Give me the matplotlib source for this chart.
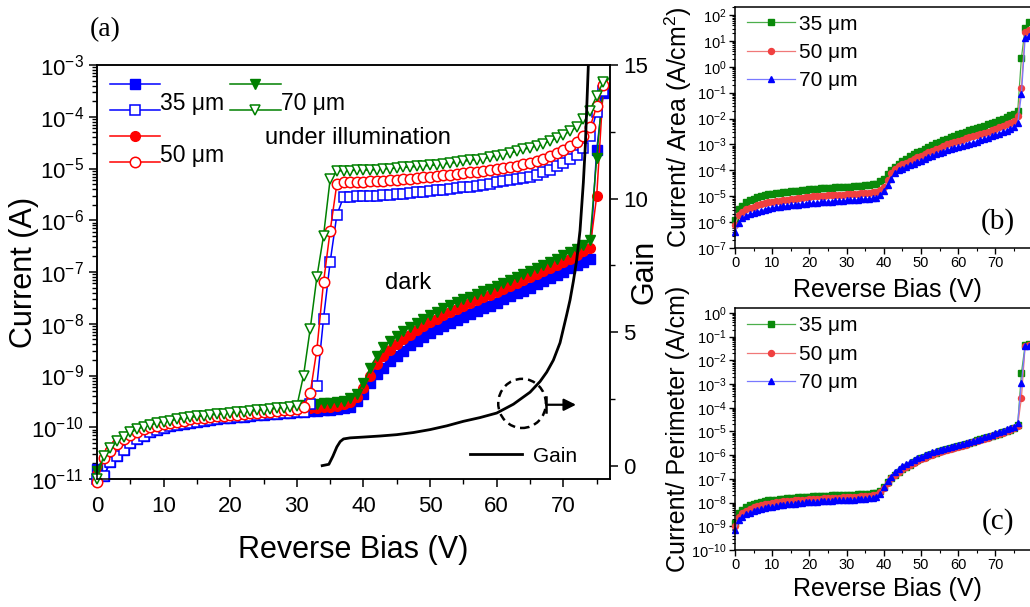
import numpy as np
import matplotlib
matplotlib.use("Agg")
import matplotlib.pyplot as plt
from matplotlib.lines import Line2D
from matplotlib.patches import Ellipse
from matplotlib.legend_handler import HandlerBase
from matplotlib.ticker import LogLocator, MultipleLocator, NullFormatter, FixedLocator

plt.rcParams["font.family"] = ["Liberation Sans", "DejaVu Sans"]
plt.rcParams["mathtext.fontset"] = "custom"
plt.rcParams["mathtext.rm"] = "Liberation Sans"
plt.rcParams["mathtext.it"] = "Liberation Sans:italic"
plt.rcParams["axes.linewidth"] = 1.1

# ---------------- panel (a): current vs reverse bias, log10(I / A) ----------------
volts_a = np.arange(0, 77)

# 1-29 V: dark and illuminated curves lie on top of each other
low_35 = [-10.95, -10.67, -10.56, -10.44, -10.31, -10.22, -10.16, -10.10, -10.05,
          -10.01, -9.98, -9.95, -9.93, -9.91, -9.89, -9.87, -9.86, -9.84, -9.83,
          -9.82, -9.81, -9.80, -9.78, -9.77, -9.76, -9.75, -9.74, -9.73, -9.72]
low_50 = [-10.60, -10.45, -10.32, -10.23, -10.15, -10.09, -10.04, -10.00, -9.97,
          -9.94, -9.92, -9.89, -9.87, -9.85, -9.83, -9.82, -9.80, -9.79, -9.78,
          -9.77, -9.76, -9.75, -9.73, -9.72, -9.71, -9.70, -9.68, -9.67, -9.66]
low_70 = [-10.55, -10.40, -10.27, -10.18, -10.10, -10.04, -9.99, -9.95, -9.92,
          -9.89, -9.87, -9.85, -9.83, -9.81, -9.79, -9.78, -9.76, -9.75, -9.74,
          -9.72, -9.71, -9.70, -9.69, -9.67, -9.66, -9.65, -9.63, -9.62, -9.61]

dark_35 = [-10.80] + low_35 + [
    -9.71, -9.70, -9.69, -9.68, -9.67, -9.66, -9.65, -9.63, -9.60, -9.50,
    -9.35, -9.15, -8.98, -8.85, -8.72, -8.62, -8.52, -8.42, -8.33, -8.25,
    -8.18, -8.11, -8.05, -7.99, -7.93, -7.87, -7.81, -7.76, -7.70, -7.65,
    -7.59, -7.53, -7.47, -7.41, -7.36, -7.30, -7.24, -7.18, -7.12, -7.06,
    -7.00, -6.93, -6.86, -6.80, -6.74, -4.64, -3.54]
dark_50 = [-10.90] + low_50 + [
    -9.65, -9.64, -9.63, -9.62, -9.61, -9.60, -9.58, -9.56, -9.52, -9.42,
    -9.25, -9.00, -8.78, -8.62, -8.50, -8.40, -8.30, -8.21, -8.12, -8.04,
    -7.97, -7.90, -7.84, -7.78, -7.72, -7.66, -7.60, -7.55, -7.49, -7.44,
    -7.38, -7.33, -7.27, -7.21, -7.15, -7.10, -7.04, -6.98, -6.92, -6.86,
    -6.80, -6.74, -6.67, -6.60, -6.54, -5.54, -3.42]
dark_70 = [-10.85] + low_70 + [
    -9.59, -9.57, -9.56, -9.55, -9.54, -9.53, -9.51, -9.49, -9.44, -9.35,
    -9.15, -8.85, -8.62, -8.45, -8.33, -8.23, -8.14, -8.06, -7.98, -7.91,
    -7.84, -7.77, -7.70, -7.64, -7.58, -7.53, -7.48, -7.43, -7.37, -7.32,
    -7.27, -7.22, -7.16, -7.10, -7.04, -6.98, -6.92, -6.86, -6.80, -6.74,
    -6.68, -6.62, -6.56, -6.47, -6.38, -4.80, -3.35]

illum_35 = [-11.00] + low_35 + [
    -9.71, -9.70, -9.55, -9.20, -7.90, -6.80, -5.90, -5.55, -5.55, -5.54,
    -5.54, -5.53, -5.53, -5.52, -5.51, -5.50, -5.49, -5.48, -5.46, -5.45,
    -5.44, -5.42, -5.41, -5.39, -5.38, -5.36, -5.35, -5.33, -5.31, -5.29,
    -5.27, -5.25, -5.23, -5.21, -5.18, -5.16, -5.12, -5.07, -5.02, -4.96,
    -4.90, -4.82, -4.74, -4.60, -4.38, -3.90, -3.50]
illum_50 = [-11.05] + low_50 + [
    -9.65, -9.60, -9.34, -8.50, -7.20, -6.20, -5.30, -5.27, -5.27, -5.26,
    -5.26, -5.25, -5.25, -5.24, -5.23, -5.22, -5.21, -5.20, -5.19, -5.17,
    -5.16, -5.15, -5.13, -5.12, -5.10, -5.09, -5.07, -5.06, -5.04, -5.02,
    -5.00, -4.99, -4.97, -4.95, -4.92, -4.90, -4.86, -4.81, -4.76, -4.70,
    -4.64, -4.56, -4.48, -4.37, -4.20, -3.80, -3.38]
illum_70 = [-11.00] + low_70 + [
    -9.59, -9.00, -8.10, -7.10, -6.30, -5.20, -5.05, -5.04, -5.04, -5.03,
    -5.03, -5.03, -5.02, -5.01, -5.00, -4.99, -4.98, -4.97, -4.96, -4.95,
    -4.94, -4.93, -4.91, -4.90, -4.88, -4.86, -4.84, -4.83, -4.81, -4.78,
    -4.76, -4.73, -4.70, -4.67, -4.63, -4.60, -4.56, -4.52, -4.47, -4.41,
    -4.35, -4.28, -4.20, -4.05, -3.88, -3.60, -3.32]

gain_volts = [33.8, 34.8, 35.4, 36.0, 36.5, 37.0, 38.0, 40.0, 42.5, 45.0, 47.5,
              50.0, 52.5, 55.0, 57.5, 60.0, 62.5, 65.0, 66.5, 67.5, 68.5, 69.5,
              70.5, 71.0, 71.5, 72.0, 72.5, 73.0, 73.3, 73.6, 73.9]
gain = [0.0, 0.05, 0.35, 0.70, 0.90, 1.00, 1.04, 1.07, 1.11, 1.16, 1.24,
        1.35, 1.49, 1.66, 1.80, 1.97, 2.30, 2.75, 3.15, 3.50, 3.95, 4.60,
        5.65, 6.20, 6.90, 7.70, 8.80, 10.6, 12.0, 14.0, 16.0]

# ---------------- panels (b) and (c): normalised dark current, log10 ----------------
volts_bc = np.arange(0, 80)

area_35 = [
    -5.92, -5.50, -5.37, -5.24, -5.15, -5.09, -5.04, -5.00, -4.96, -4.93,
    -4.90, -4.88, -4.86, -4.84, -4.82, -4.81, -4.79, -4.78, -4.76, -4.75,
    -4.73, -4.72, -4.71, -4.70, -4.69, -4.68, -4.67, -4.66, -4.65, -4.65,
    -4.64, -4.63, -4.62, -4.61, -4.60, -4.58, -4.56, -4.54, -4.51, -4.43,
    -4.32, -4.13, -4.00, -3.88, -3.76, -3.65, -3.55, -3.46, -3.38, -3.31,
    -3.24, -3.17, -3.10, -3.03, -2.96, -2.90, -2.84, -2.78, -2.72, -2.66,
    -2.61, -2.56, -2.51, -2.46, -2.42, -2.37, -2.32, -2.27, -2.22, -2.17,
    -2.12, -2.06, -2.00, -1.94, -1.88, -1.82, -1.72, 0.34, 1.49, 1.74]
area_50 = [
    -6.11, -5.73, -5.60, -5.50, -5.44, -5.40, -5.35, -5.31, -5.27, -5.24,
    -5.22, -5.19, -5.17, -5.15, -5.13, -5.11, -5.09, -5.07, -5.05, -5.04,
    -5.02, -5.01, -5.00, -4.99, -4.98, -4.97, -4.96, -4.95, -4.94, -4.94,
    -4.93, -4.92, -4.91, -4.90, -4.89, -4.88, -4.87, -4.85, -4.83, -4.76,
    -4.64, -4.38, -4.12, -3.95, -3.85, -3.77, -3.70, -3.64, -3.57, -3.50,
    -3.44, -3.38, -3.31, -3.25, -3.18, -3.12, -3.06, -3.00, -2.95, -2.90,
    -2.85, -2.81, -2.76, -2.72, -2.67, -2.63, -2.59, -2.54, -2.50, -2.45,
    -2.40, -2.34, -2.28, -2.22, -2.16, -2.08, -1.92, -0.81, 1.36, 1.42]
area_70 = [
    -6.37, -6.05, -5.85, -5.76, -5.70, -5.66, -5.61, -5.56, -5.52, -5.48,
    -5.45, -5.43, -5.41, -5.39, -5.37, -5.35, -5.34, -5.32, -5.30, -5.29,
    -5.28, -5.27, -5.25, -5.24, -5.23, -5.22, -5.21, -5.20, -5.18, -5.17,
    -5.16, -5.15, -5.14, -5.13, -5.12, -5.11, -5.09, -5.08, -5.06, -4.96,
    -4.80, -4.57, -4.32, -4.12, -4.00, -3.93, -3.87, -3.81, -3.75, -3.69,
    -3.63, -3.57, -3.50, -3.43, -3.37, -3.32, -3.28, -3.23, -3.19, -3.15,
    -3.11, -3.07, -3.02, -2.98, -2.93, -2.89, -2.84, -2.79, -2.74, -2.69,
    -2.64, -2.59, -2.53, -2.47, -2.41, -2.33, -2.19, -1.07, 1.10, 1.20]

perim_35 = [
    -8.87, -8.45, -8.31, -8.20, -8.12, -8.06, -8.02, -7.98, -7.94, -7.91,
    -7.89, -7.87, -7.85, -7.83, -7.82, -7.80, -7.79, -7.78, -7.77, -7.76,
    -7.75, -7.74, -7.73, -7.72, -7.71, -7.71, -7.70, -7.69, -7.69, -7.68,
    -7.68, -7.67, -7.66, -7.65, -7.64, -7.63, -7.62, -7.60, -7.58, -7.50,
    -7.35, -7.15, -6.98, -6.85, -6.72, -6.60, -6.50, -6.40, -6.30, -6.21,
    -6.13, -6.07, -6.01, -5.95, -5.89, -5.84, -5.79, -5.74, -5.69, -5.66,
    -5.63, -5.58, -5.53, -5.48, -5.43, -5.38, -5.33, -5.28, -5.23, -5.18,
    -5.14, -5.09, -5.04, -4.98, -4.92, -4.85, -4.72, -2.54, -1.35, -1.30]
perim_50 = [
    -9.00, -8.60, -8.45, -8.34, -8.26, -8.20, -8.15, -8.11, -8.07, -8.04,
    -8.02, -7.99, -7.97, -7.95, -7.94, -7.92, -7.91, -7.89, -7.88, -7.87,
    -7.86, -7.85, -7.84, -7.83, -7.82, -7.81, -7.80, -7.80, -7.79, -7.78,
    -7.78, -7.77, -7.76, -7.75, -7.74, -7.73, -7.71, -7.69, -7.66, -7.56,
    -7.38, -7.16, -6.98, -6.83, -6.71, -6.60, -6.50, -6.40, -6.31, -6.23,
    -6.16, -6.10, -6.04, -5.98, -5.92, -5.87, -5.82, -5.77, -5.72, -5.68,
    -5.64, -5.60, -5.55, -5.50, -5.45, -5.41, -5.36, -5.31, -5.26, -5.21,
    -5.16, -5.11, -5.05, -5.00, -4.94, -4.87, -4.75, -3.59, -1.40, -1.33]
perim_70 = [
    -9.15, -8.75, -8.60, -8.50, -8.42, -8.36, -8.31, -8.27, -8.23, -8.20,
    -8.17, -8.14, -8.12, -8.10, -8.08, -8.06, -8.04, -8.02, -8.01, -7.99,
    -7.98, -7.97, -7.96, -7.95, -7.94, -7.93, -7.92, -7.91, -7.90, -7.90,
    -7.89, -7.88, -7.87, -7.86, -7.85, -7.83, -7.81, -7.79, -7.75, -7.62,
    -7.35, -7.10, -6.90, -6.72, -6.58, -6.47, -6.38, -6.29, -6.21, -6.13,
    -6.06, -6.00, -5.94, -5.88, -5.83, -5.78, -5.73, -5.68, -5.64, -5.60,
    -5.56, -5.52, -5.48, -5.43, -5.39, -5.35, -5.30, -5.25, -5.20, -5.14,
    -5.08, -5.03, -4.97, -4.91, -4.86, -4.79, -4.65, -2.96, -1.41, -1.38]

sizes = ["35 \u03bcm", "50 \u03bcm", "70 \u03bcm"]


class StackedHandler(HandlerBase):
    """Origin-style legend entry: filled marker line above open marker line."""

    def create_artists(self, legend, orig_handle, xdescent, ydescent,
                       width, height, fontsize, trans):
        mid = (height - ydescent) / 2
        gap = 0.58 * fontsize
        artists = []
        for line, dy in zip(orig_handle, (gap, -gap)):
            x0 = -xdescent
            seg = Line2D([x0, x0 + width / 2, x0 + width], [mid + dy] * 3)
            seg.update_from(line)
            seg.set_markevery([1])
            seg.set_transform(trans)
            seg.set_clip_on(False)
            artists.append(seg)
        return artists


fig = plt.figure(figsize=(10.30, 6.07), dpi=100)
W, H = 1030.0, 607.0

# ---------------- panel (a) ----------------
ax = fig.add_axes([97 / W, 1 - 479 / H, (610 - 97) / W, (479 - 65) / H])
colors_a = ["#0000ff", "#ff0000", "#008000"]
markers_a = ["s", "o", "v"]
dark_lines = []
for vals, c, m in zip([dark_35, dark_50, dark_70], colors_a, markers_a):
    ln, = ax.plot(volts_a, 10.0 ** np.array(vals), color=c, lw=1.1, marker=m,
                  ms=7, mfc=c, mec=c, clip_on=False, zorder=3)
    dark_lines.append(ln)
illum_lines = []
for vals, c, m in zip([illum_35, illum_50, illum_70], colors_a, markers_a):
    ln, = ax.plot(volts_a, 10.0 ** np.array(vals), color=c, lw=1.1, marker=m,
                  ms=7.5, mfc="white", mec=c, mew=1.1, clip_on=False, zorder=4)
    illum_lines.append(ln)

ax.set_yscale("log")
ax.set_ylim(1e-11, 1e-3)
ax.set_xlim(0, 77)
ax.xaxis.set_major_locator(MultipleLocator(10))
ax.xaxis.set_minor_locator(MultipleLocator(5))
ax.yaxis.set_major_locator(LogLocator(base=10, numticks=20))
ax.yaxis.set_minor_locator(LogLocator(base=10, subs=np.arange(2, 10), numticks=20))
ax.yaxis.set_minor_formatter(NullFormatter())
ax.tick_params(axis="both", which="major", labelsize=16, direction="out",
               length=6, width=1.1, top=False, right=False)
ax.tick_params(axis="x", which="major", pad=6)
ax.tick_params(axis="both", which="minor", direction="out", length=3.5,
               width=1.0, top=False, right=False)

ax.legend([(dark_lines[0], illum_lines[0]), (dark_lines[1], illum_lines[1]),
           (dark_lines[2], illum_lines[2])], sizes,
          handler_map={tuple: StackedHandler()}, ncol=2, frameon=False,
          fontsize=16.5, handlelength=2.2, handleheight=2.2,
          labelspacing=0.6, handletextpad=0.0, columnspacing=0.25,
          borderpad=0, borderaxespad=0, loc="upper left",
          bbox_to_anchor=(0.025, 0.955))

ax.text(0.327, 0.824, "under illumination", transform=ax.transAxes,
        fontsize=17, ha="left", va="center")
ax.text(0.561, 0.473, "dark", transform=ax.transAxes,
        fontsize=17, ha="left", va="center")

ax2 = ax.twinx()
gain_line, = ax2.plot(gain_volts, gain, color="black", lw=2.0, zorder=5)
ax2.set_ylim(-0.5, 15)
ax2.yaxis.set_major_locator(MultipleLocator(5))
ax2.yaxis.set_minor_locator(MultipleLocator(2.5))
ax2.tick_params(axis="y", which="major", labelsize=16, direction="out",
                length=6, width=1.1)
ax2.tick_params(axis="y", which="minor", direction="out", length=3.5, width=1.0)
ax2.add_patch(Ellipse((63.8, 2.33), 7.15, 1.84, fill=False, ls=(0, (3, 2)),
                      lw=1.8, ec="black"))
ax2.plot([67.4, 67.4], [2.0, 2.56], color="black", lw=1.8)
ax2.annotate("", xy=(71.9, 2.28), xytext=(67.4, 2.28),
             arrowprops=dict(arrowstyle="-|>", color="black", lw=1.6,
                             mutation_scale=18, shrinkA=0, shrinkB=0))
ax2.legend([gain_line], ["Gain"], loc="center right", frameon=False,
           fontsize=15, handlelength=2.5, handletextpad=0.5, borderpad=0,
           borderaxespad=0, bbox_to_anchor=((577 - 97) / 513, (479 - 456) / 414))

fig.text(24 / W, 1 - 272 / H, "Current (A)", rotation=90, fontsize=22,
         ha="center", va="center")
fig.text(645 / W, 1 - 272 / H, "Gain", rotation=90, fontsize=22,
         ha="center", va="center")
fig.text(353 / W, 1 - 550 / H, "Reverse Bias (V)", fontsize=22,
         ha="center", va="center")
fig.text(90 / W, 1 - 30 / H, "(a)", fontsize=20, family="Liberation Serif",
         ha="left", va="center")

# ---------------- panels (b) and (c) ----------------
line_cols = ["#4caf4c", "#f07878", "#7878ff"]
mark_cols = ["#0a8a0a", "#f04040", "#0000ff"]
markers_bc = ["s", "o", "^"]


def small_panel(rect, series, ylim, ylabel, xlabel_y, tag, tag_y, leg_y):
    axp = fig.add_axes(rect)
    for vals, lc, mc, m, lab in zip(series, line_cols, mark_cols, markers_bc, sizes):
        axp.plot(volts_bc, 10.0 ** np.array(vals), color=lc, lw=0.9, marker=m,
                 ms=4.3, mfc=mc, mec=mc, label=lab, clip_on=False)
    axp.set_yscale("log")
    axp.set_ylim(*ylim)
    axp.set_xlim(0, 82)
    axp.xaxis.set_major_locator(FixedLocator(np.arange(0, 80, 10)))
    axp.xaxis.set_minor_locator(MultipleLocator(5))
    axp.yaxis.set_major_locator(LogLocator(base=10, numticks=20))
    axp.yaxis.set_minor_locator(LogLocator(base=10, subs=np.arange(2, 10), numticks=20))
    axp.yaxis.set_minor_formatter(NullFormatter())
    axp.tick_params(axis="both", which="major", labelsize=10.5, direction="out",
                    length=4, width=1.0, pad=2)
    axp.tick_params(axis="both", which="minor", direction="out", length=2, width=0.8)
    axp.legend(loc="upper left", frameon=False, fontsize=15, handlelength=2.3,
               handletextpad=0.2, labelspacing=0.45, numpoints=1, borderpad=0,
               borderaxespad=0, bbox_to_anchor=(0.04, leg_y))
    x0, y0, w, h = rect
    fig.text(678 / W, y0 + h / 2, ylabel, rotation=90, fontsize=18,
             ha="center", va="center")
    fig.text(887 / W, 1 - xlabel_y / H, "Reverse Bias (V)", fontsize=18,
             ha="center", va="center")
    fig.text(998 / W, 1 - tag_y / H, tag, fontsize=21, family="Liberation Serif",
             ha="center", va="center")
    return axp


ax_b = small_panel([735 / W, 1 - 248 / H, (1040 - 735) / W, (248 - 7) / H],
                   [area_35, area_50, area_70], (1e-7, 10 ** 2.31),
                   "Current/ Area (A/cm$^2$)", 290, "(b)", 222, 0.968)
ax_c = small_panel([735 / W, 1 - 550 / H, (1040 - 735) / W, (550 - 308) / H],
                   [perim_35, perim_50, perim_70], (1e-10, 10 ** 0.21),
                   "Current/ Perimeter (A/cm)", 589, "(c)", 522, 0.965)

fig.savefig("out.png", dpi=100)
